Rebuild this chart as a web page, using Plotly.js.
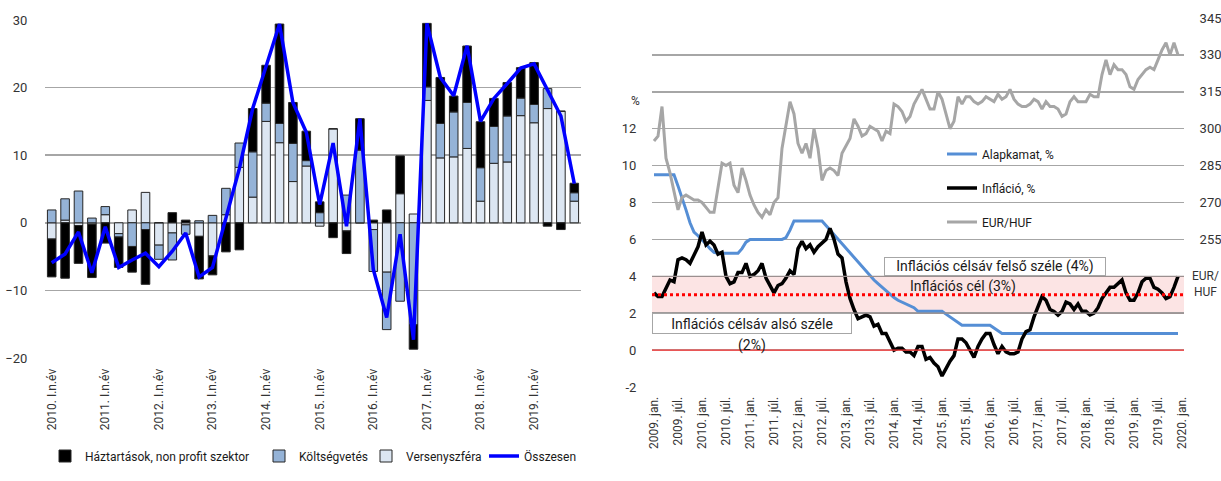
<!DOCTYPE html>
<html>
<head>
<meta charset="utf-8">
<script src="https://cdn.plot.ly/plotly-3.0.1.min.js"></script>
<style>html,body{margin:0;padding:0;background:#fff;}#chart{width:1221px;height:481px;}</style>
</head>
<body>
<div id="chart"></div>
<script>
// ---------- LEFT PANEL: quarterly contributions ----------
const years = [2010, 2011, 2012, 2013, 2014, 2015, 2016, 2017, 2018, 2019];
const quarterNames = ["I.", "II.", "III.", "IV."];
const quarters = [];
years.forEach(y => quarterNames.forEach(q => quarters.push(y + ". " + q + "n.év")));
const quarterTicks = years.map(y => y + ". I.n.év");

const versenyszfera = [-2.4, 0.4, -0.4, -0.2, 1.2, -1.6, 1.9, 4.5, -3.3, -1.5,
  -0.3, -2.0, -4.9, 1.2, 8.2, 3.8, 15.0, 11.85, 6.1, 8.4,
  -0.5, 13.9, -1.2, 0, -1.0, -7.3, 4.3, 1.3, 18.1, 9.6,
  9.75, 11.0, 3.2, 8.8, 9.0, 15.85, 14.8, 16.9, 16.5, 3.2];
const koltsegvetes = [1.9, 3.15, 4.7, 0.7, 1.2, -0.5, -3.5, -1.0, -2.1, -4.0,
  -1.4, 0.3, 1.1, 3.9, 3.6, 6.7, 2.7, 2.85, 5.65, 0.8,
  1.5, 0, 4.1, 10.75, -6.2, -8.5, -11.6, -15.1, 2.0, 5.1,
  6.65, 6.8, 4.95, 5.45, 6.8, 2.6, 2.7, 2.95, 0, 1.25];
const haztartasok = [-5.6, -8.2, -5.6, -7.9, -3.0, -4.5, -3.8, -8.1, 0, 1.5,
  0.4, -6.3, -2.8, -4.3, -4.0, 6.4, 5.6, 14.7, 6.05, 4.35,
  1.6, -2.2, -3.35, 4.65, 0.4, 1.9, 5.6, -3.6, 9.4, 6.8,
  2.35, 8.35, 6.8, 4.15, 4.95, 4.5, 6.2, -0.5, -1.0, 1.4];
const osszesen = [-5.9, -4.6, -1.35, -7.4, -0.6, -6.6, -5.5, -4.5, -6.5, -4.2,
  -1.5, -8.0, -6.6, 0.8, 8.0, 16.9, 23.3, 29.4, 17.8, 13.4,
  2.7, 11.8, -0.5, 15.4, -6.9, -14.0, -1.7, -17.3, 29.5, 21.5,
  18.8, 26.2, 15.0, 18.4, 20.6, 22.9, 23.5, 19.6, 15.8, 5.8];

// ---------- RIGHT PANEL: monthly series ----------
const monthNames = ["jan.", "febr.", "márc.", "ápr.", "máj.", "jún.", "júl.", "aug.", "szept.", "okt.", "nov.", "dec."];
const months = [];
for (let y = 2009; y <= 2019; y++) monthNames.forEach(m => months.push(y + ". " + m));
const monthTickText = [];
for (let y = 2009; y <= 2020; y++) { monthTickText.push(y + ". jan."); if (y < 2020) monthTickText.push(y + ". júl."); }

const alapkamat = [
  9.5, 9.5, 9.5, 9.5, 9.5, 9.5, 8.9, 8.3, 7.6, 6.9, 6.4, 6.2,
  6.0, 5.75, 5.5, 5.3, 5.25, 5.25, 5.25, 5.25, 5.25, 5.25, 5.5, 5.85,
  6.0, 6.0, 6.0, 6.0, 6.0, 6.0, 6.0, 6.0, 6.0, 6.1, 6.5, 7.0,
  7.0, 7.0, 7.0, 7.0, 7.0, 7.0, 7.0, 6.75, 6.5, 6.25, 6.0, 5.75,
  5.5, 5.25, 5.0, 4.75, 4.5, 4.25, 4.0, 3.8, 3.6, 3.4, 3.2, 3.0,
  2.85, 2.7, 2.6, 2.5, 2.4, 2.3, 2.1, 2.1, 2.1, 2.1, 2.1, 2.1,
  2.1, 1.95, 1.8, 1.65, 1.5, 1.35, 1.35, 1.35, 1.35, 1.35, 1.35, 1.35,
  1.35, 1.2, 1.05, 0.9, 0.9, 0.9, 0.9, 0.9, 0.9, 0.9, 0.9, 0.9,
  0.9, 0.9, 0.9, 0.9, 0.9, 0.9, 0.9, 0.9, 0.9, 0.9, 0.9, 0.9,
  0.9, 0.9, 0.9, 0.9, 0.9, 0.9, 0.9, 0.9, 0.9, 0.9, 0.9, 0.9,
  0.9, 0.9, 0.9, 0.9, 0.9, 0.9, 0.9, 0.9, 0.9, 0.9, 0.9, 0.9];
const inflacio = [
  3.1, 2.9, 2.9, 3.4, 3.8, 3.7, 4.9, 5.0, 4.9, 4.7, 5.2, 5.6,
  6.4, 5.7, 5.9, 5.7, 5.2, 5.3, 4.0, 3.6, 3.7, 4.2, 4.2, 4.7,
  4.0, 4.1, 4.3, 4.7, 3.9, 3.5, 3.1, 3.5, 3.6, 3.9, 4.3, 4.1,
  5.5, 5.9, 5.5, 5.7, 5.3, 5.6, 5.8, 6.0, 6.6, 6.0, 5.2, 5.0,
  3.7, 2.8, 2.2, 1.7, 1.8, 1.9, 1.8, 1.3, 1.4, 0.9, 0.9, 0.4,
  0.0, 0.1, 0.1, -0.1, -0.1, -0.3, 0.2, 0.2, -0.5, -0.4, -0.7, -0.9,
  -1.4, -1.0, -0.6, -0.3, 0.6, 0.6, 0.4, 0.0, -0.4, 0.2, 0.6, 0.9,
  0.9, 0.3, -0.2, 0.2, -0.1, -0.2, -0.2, -0.1, 0.6, 1.0, 1.1, 1.8,
  2.3, 2.9, 2.7, 2.2, 2.1, 1.9, 2.1, 2.6, 2.5, 2.2, 2.5, 2.1,
  2.1, 1.9, 2.0, 2.3, 2.8, 3.1, 3.4, 3.4, 3.6, 3.8, 3.1, 2.7,
  2.7, 3.1, 3.7, 3.9, 3.9, 3.4, 3.3, 3.1, 2.8, 2.9, 3.4, 4.0];
const eurhuf = [
  295, 297, 309, 288, 282, 274, 267, 272, 273, 272, 271, 271,
  270, 268, 266, 266, 276, 286, 285, 286, 277, 274, 284, 279,
  273, 269, 266, 264, 267, 265, 270, 272, 292, 302, 311, 306,
  294, 290, 294, 288, 300, 292, 279, 283, 284, 283, 281, 290,
  293, 296, 304, 301, 297, 298, 301, 300, 299, 295, 299, 298,
  310, 309, 307, 303, 305, 310, 313, 316, 312, 308, 308, 315,
  312, 306, 300, 303, 313, 310, 313, 313, 311, 310, 311, 313,
  312, 311, 314, 312, 313, 316, 312, 310, 309, 309, 310, 312,
  311, 308, 311, 309, 309, 308, 305, 306, 311, 313, 311, 311,
  311, 314, 313, 313, 322, 328, 322, 326, 324, 324, 322, 317,
  316, 320, 322, 324, 325, 324, 328, 332, 335, 330, 335, 330];

const leftYTicks = [-20, -10, 0, 10, 20, 30];
const pctTicks = [-2, 0, 2, 4, 6, 8, 10, 12, 14, 16, 18];
const pctTickText = ["-2", "0", "2", "4", "6", "8", "10", "12", "", "", ""];
const eurTicks = [195, 210, 225, 240, 255, 270, 285, 300, 315, 330, 345];
const eurTickText = ["", "", "", "", "255", "270", "285", "300", "315", "330", "345"];

const W = 1221, H = 481;
const px = x => x / W;
const py = y => 1 - y / H;
const FONT = "Roboto, 'Liberation Sans', sans-serif";
const TXT = "#333333";
const GRID = "#A6A6A6";

const monthIdx = months.map((_, i) => i);
const monthTickVals = monthTickText.map((_, i) => i * 6);

const barLine = {color: "#262626", width: 1};
const traces = [
  {type: "bar", name: "Versenyszféra", x: quarters, y: versenyszfera, xaxis: "x", yaxis: "y",
   marker: {color: "#DCE6F2", line: barLine}, legend: "legend3"},
  {type: "bar", name: "Költségvetés", x: quarters, y: koltsegvetes, xaxis: "x", yaxis: "y",
   marker: {color: "#95B3D7", line: barLine}, legend: "legend2"},
  {type: "bar", name: "Háztartások, non profit szektor", x: quarters, y: haztartasok, xaxis: "x", yaxis: "y",
   marker: {color: "#000000", line: barLine}, legend: "legend"},
  {type: "scatter", mode: "lines", name: "Összesen", x: quarters, y: osszesen, xaxis: "x", yaxis: "y",
   line: {color: "#0000FF", width: 3.5}, legend: "legend4"},
  {type: "scatter", mode: "lines", name: "EUR/HUF", x: monthIdx, y: eurhuf, xaxis: "x2", yaxis: "y4",
   line: {color: "#A6A6A6", width: 3}, legend: "legend7"},
  {type: "scatter", mode: "lines", name: "Alapkamat, %", x: monthIdx, y: alapkamat, xaxis: "x2", yaxis: "y3",
   line: {color: "#558ED5", width: 3}, legend: "legend5"},
  {type: "scatter", mode: "lines", name: "Infláció, %", x: monthIdx, y: inflacio, xaxis: "x2", yaxis: "y3",
   line: {color: "#000000", width: 3.5}, legend: "legend6"}
];

const legendBase = {bgcolor: "rgba(0,0,0,0)", borderwidth: 0, xanchor: "left", yanchor: "middle",
  font: {family: FONT, size: 12, color: "#1a1a1a"}, itemwidth: 30};
function lg(x, y) { return Object.assign({}, legendBase, {x: px(x), y: py(y)}); }

const tickFont = {family: FONT, size: 13, color: TXT};
const xTickFont = {family: FONT, size: 12, color: TXT};
const annFont = {family: FONT, size: 14, color: "#1a1a1a"};

const layout = {
  width: W, height: H,
  margin: {l: 0, r: 0, t: 0, b: 0},
  paper_bgcolor: "#ffffff", plot_bgcolor: "rgba(0,0,0,0)",
  barmode: "relative", bargap: 0.36,
  showlegend: true,
  legend: lg(45, 456),
  legend2: lg(259, 456),
  legend3: lg(366, 456),
  legend4: lg(484, 456),
  legend5: lg(942, 154),
  legend6: lg(942, 188),
  legend7: lg(942, 222),
  xaxis: {domain: [px(45), px(581)], anchor: "y", type: "category", range: [-0.5, 39.5],
    tickmode: "array", tickvals: quarterTicks, ticktext: quarterTicks, tickangle: -90,
    tickfont: xTickFont, showgrid: false, zeroline: false, showline: false,
    ticks: "outside", ticklen: 5, tickcolor: "rgba(0,0,0,0)"},
  yaxis: {domain: [py(358), py(20)], anchor: "x", range: [-20, 30], tickvals: leftYTicks,
    showgrid: true, gridcolor: GRID, gridwidth: 1.5, zeroline: false, showline: false,
    tickfont: tickFont, ticks: "outside", ticklen: 14, tickcolor: "rgba(0,0,0,0)"},
  yaxis2: {overlaying: "y", side: "right", anchor: "x", range: [-20, 30], tickvals: leftYTicks,
    showgrid: false, zeroline: false, showline: false,
    tickfont: tickFont, ticks: "outside", ticklen: 8, tickcolor: "rgba(0,0,0,0)"},
  xaxis2: {domain: [px(652), px(1184)], anchor: "y3", range: [-0.5, 132.5],
    tickmode: "array", tickvals: monthTickVals, ticktext: monthTickText, tickangle: -90,
    tickfont: xTickFont, showgrid: false, zeroline: false, showline: false,
    ticks: "outside", ticklen: 4, tickcolor: "rgba(0,0,0,0)"},
  yaxis3: {domain: [py(387), py(18)], anchor: "x2", range: [-2, 18], tickmode: "array",
    tickvals: pctTicks, ticktext: pctTickText,
    showgrid: true, gridcolor: GRID, gridwidth: 1.5, zeroline: false, showline: false,
    tickfont: tickFont, ticks: "outside", ticklen: 12, tickcolor: "rgba(0,0,0,0)"},
  yaxis4: {overlaying: "y3", side: "right", anchor: "x2", range: [195, 345], tickmode: "array",
    tickvals: eurTicks, ticktext: eurTickText,
    showgrid: false, zeroline: false, showline: false,
    tickfont: tickFont, ticks: "outside", ticklen: 12, tickcolor: "rgba(0,0,0,0)"},
  shapes: [
    {type: "rect", xref: "x2", yref: "y3", x0: -0.5, x1: 132.5, y0: 2, y1: 4,
     fillcolor: "#FCE4E4", line: {width: 0}, layer: "below"},
    {type: "line", xref: "x2", yref: "y3", x0: -0.5, x1: 132.5, y0: 4, y1: 4,
     line: {color: "#9A8F8F", width: 1.2}, layer: "above"},
    {type: "line", xref: "x2", yref: "y3", x0: -0.5, x1: 132.5, y0: 2, y1: 2,
     line: {color: "#9A8F8F", width: 1.2}, layer: "above"},
    {type: "line", xref: "x2", yref: "y3", x0: -0.5, x1: 132.5, y0: 3, y1: 3,
     line: {color: "#FF0000", width: 3, dash: "dot"}, layer: "above"},
    {type: "line", xref: "x2", yref: "y3", x0: -0.5, x1: 132.5, y0: 0, y1: 0,
     line: {color: "#FF3B3B", width: 1.3}, layer: "above"}
  ],
  annotations: [
    {xref: "paper", yref: "paper", x: px(635), y: py(101), xanchor: "center", yanchor: "middle",
     text: "%", showarrow: false, font: {family: FONT, size: 12, color: TXT}},
    {xref: "paper", yref: "paper", x: px(1205), y: py(284), xanchor: "center", yanchor: "middle",
     text: "EUR/<br>HUF", showarrow: false, font: {family: FONT, size: 12, color: TXT}},
    {xref: "paper", yref: "paper", x: px(995), y: py(266), xanchor: "center", yanchor: "middle",
     text: "Inflációs célsáv felső széle (4%)", showarrow: false, font: annFont,
     bgcolor: "#ffffff", bordercolor: "#A6A6A6", borderwidth: 1, borderpad: 0, width: 220, height: 17},
    {xref: "paper", yref: "paper", x: px(963), y: py(286), xanchor: "center", yanchor: "middle",
     text: "Inflációs cél (3%)", showarrow: false, font: annFont},
    {xref: "paper", yref: "paper", x: px(752), y: py(323), xanchor: "center", yanchor: "middle",
     text: "Inflációs célsáv alsó széle", showarrow: false, font: annFont,
     bgcolor: "#ffffff", bordercolor: "#A6A6A6", borderwidth: 1, borderpad: 0, width: 198, height: 19},
    {xref: "paper", yref: "paper", x: px(752), y: py(345), xanchor: "center", yanchor: "middle",
     text: "(2%)", showarrow: false, font: annFont}
  ]
};

Plotly.newPlot("chart", traces, layout, {staticPlot: true, displayModeBar: false});
</script>
</body>
</html>
